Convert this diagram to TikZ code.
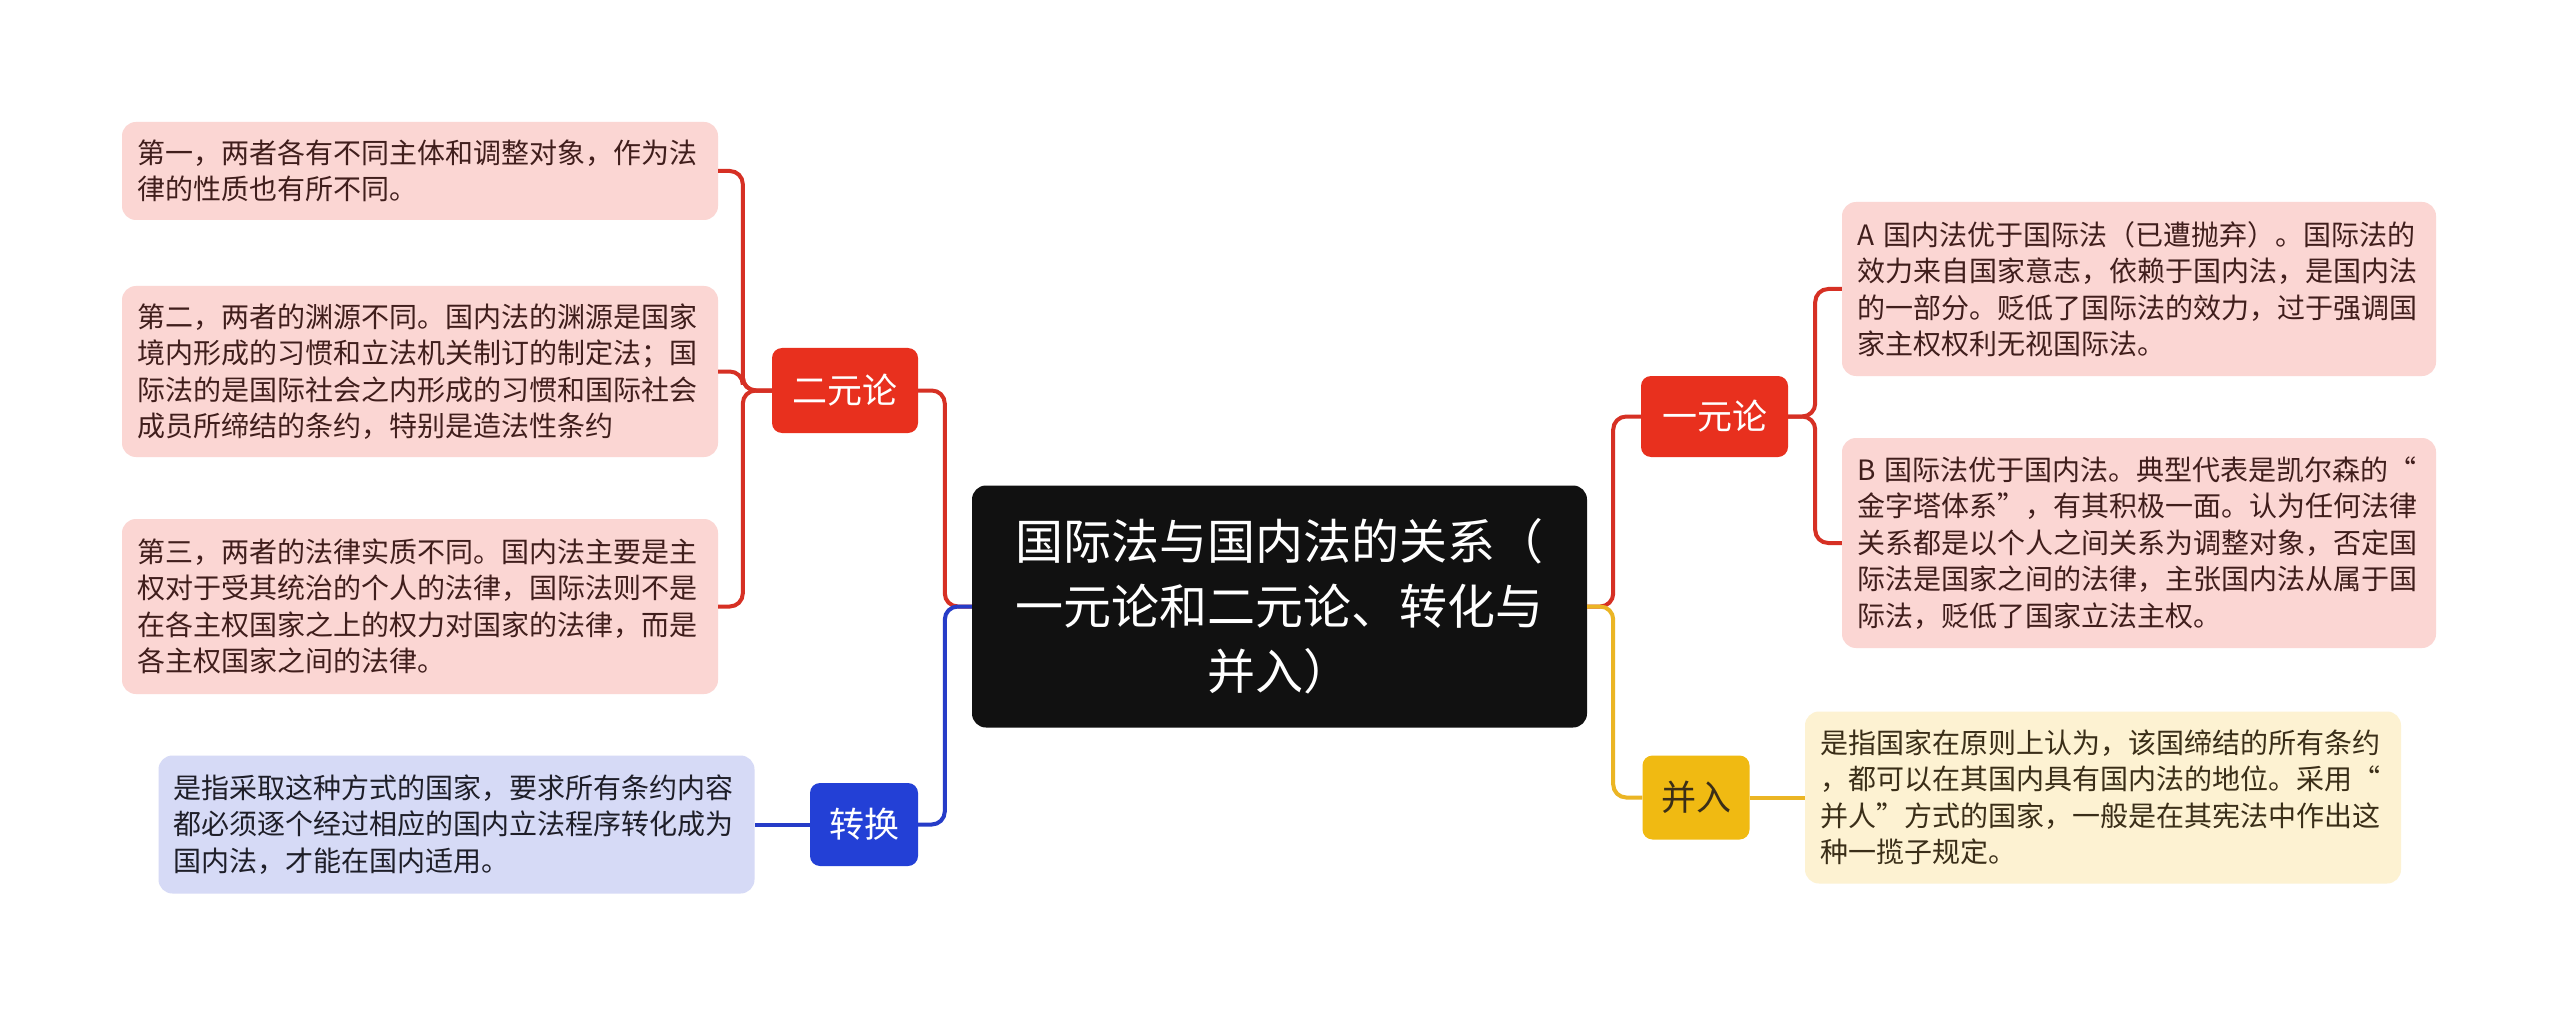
\documentclass[tikz,border=0pt]{standalone}
\usepackage{fontspec}
\setmainfont{Noto Sans CJK SC}
\definecolor{rednode}{RGB}{232,48,30}
\definecolor{redline}{RGB}{214,48,36}
\definecolor{redleaf}{RGB}{251,214,211}
\definecolor{redtext}{RGB}{64,30,28}
\definecolor{bluenode}{RGB}{35,64,214}
\definecolor{blueline}{RGB}{38,60,200}
\definecolor{blueleaf}{RGB}{214,218,246}
\definecolor{bluetext}{RGB}{30,30,40}
\definecolor{yelnode}{RGB}{240,186,18}
\definecolor{yelline}{RGB}{235,181,36}
\definecolor{yelleaf}{RGB}{253,242,210}
\definecolor{yeltext}{RGB}{58,46,24}
\definecolor{centerfill}{RGB}{17,17,17}
\tikzset{
  x=1pt, y=-1pt,
  leafbox/.style={rectangle, rounded corners=14pt, inner sep=0pt, align=left,
    font=\fontsize{28}{36.5}\selectfont},
  branchbox/.style={rectangle, rounded corners=10pt, inner sep=0pt, align=center,
    font=\fontsize{35}{40}\selectfont},
  conn/.style={line width=4pt, rounded corners=13pt},
}
\begin{document}
\begin{tikzpicture}
\fill[white] (0,0) rectangle (2560,1016);
\useasboundingbox (0,0) rectangle (2560,1016);

% center
\node[rectangle, rounded corners=14pt, fill=centerfill, text=white, inner sep=0pt,
  minimum width=615pt, minimum height=242pt, text width=560pt, align=center,
  font=\fontsize{48}{65}\selectfont] (C) at (1279.5,606.5)
  {国际法与国内法的关系（\\一元论和二元论、转化与\\并入）};

% branch nodes
\node[branchbox, fill=rednode, text=white, minimum width=146pt, minimum height=85pt] (E) at (845,390.5) {二元论};
\node[branchbox, fill=bluenode, text=white, minimum width=108pt, minimum height=83pt] (Z) at (864,824.5) {转换};
\node[branchbox, fill=rednode, text=white, minimum width=147pt, minimum height=81pt] (Y) at (1714.5,416.5) {一元论};
\node[branchbox, fill=yelnode, text=yeltext, minimum width=107pt, minimum height=84pt] (P) at (1696,797.5) {并入};

% left leaves
\node[leafbox, fill=redleaf, text=redtext, minimum width=596pt, minimum height=98pt, text width=566pt] (L1) at (420,171)
  {第一，两者各有不同主体和调整对象，作为法\\律的性质也有所不同。};
\node[leafbox, fill=redleaf, text=redtext, minimum width=596pt, minimum height=171pt, text width=566pt] (L2) at (420,371.5)
  {第二，两者的渊源不同。国内法的渊源是国家\\境内形成的习惯和立法机关制订的制定法；国\\际法的是国际社会之内形成的习惯和国际社会\\成员所缔结的条约，特别是造法性条约};
\node[leafbox, fill=redleaf, text=redtext, minimum width=596pt, minimum height=175pt, text width=566pt] (L3) at (420,606.5)
  {第三，两者的法律实质不同。国内法主要是主\\权对于受其统治的个人的法律，国际法则不是\\在各主权国家之上的权力对国家的法律，而是\\各主权国家之间的法律。};
\node[leafbox, fill=blueleaf, text=bluetext, minimum width=596pt, minimum height=138pt, text width=566pt] (LZ) at (456.5,824.5)
  {是指采取这种方式的国家，要求所有条约内容\\都必须逐个经过相应的国内立法程序转化成为\\国内法，才能在国内适用。};

% right leaves
\node[leafbox, fill=redleaf, text=redtext, minimum width=594pt, minimum height=174pt, text width=564pt] (A) at (2139,289)
  {A~国内法优于国际法（已遭抛弃）。国际法的\\效力来自国家意志，依赖于国内法，是国内法\\的一部分。贬低了国际法的效力，过于强调国\\家主权权利无视国际法。};
\node[leafbox, fill=redleaf, text=redtext, minimum width=594pt, minimum height=210pt, text width=564pt] (B) at (2139,543)
  {B~国际法优于国内法。典型代表是凯尔森的“\\金字塔体系”，有其积极一面。认为任何法律\\关系都是以个人之间关系为调整对象，否定国\\际法是国家之间的法律，主张国内法从属于国\\际法，贬低了国家立法主权。};
\node[leafbox, fill=yelleaf, text=yeltext, minimum width=596pt, minimum height=172pt, text width=566pt] (LP) at (2103,797.5)
  {是指国家在原则上认为，该国缔结的所有条约\\，都可以在其国内具有国内法的地位。采用“\\并人”方式的国家，一般是在其宪法中作出这\\种一揽子规定。};

% trunk coordinates
\coordinate (CL) at ([xshift=-27pt]C.west);
\coordinate (CR) at ([xshift=26pt]C.east);
\coordinate (ET) at ([xshift=-29pt]E.west);
\coordinate (YT) at ([xshift=27pt]Y.east);

% connectors
\draw[conn, redline] (C.west) -- (CL) |- (E.east);
\draw[conn, blueline] (C.west) -- (CL) |- (Z.east);
\draw[conn, redline] (C.east) -- (CR) |- (Y.west);
\draw[conn, yelline] (C.east) -- (CR) |- (P.west);

\draw[conn, redline] (E.west) -- (ET) |- (L1.east);
\draw[conn, redline] (E.west) -- (ET) |- (L2.east);
\draw[conn, redline] (E.west) -- (ET) |- (L3.east);

\draw[conn, redline] (Y.east) -- (YT) |- (A.west);
\draw[conn, redline] (Y.east) -- (YT) |- (B.west);

\draw[conn, blueline] (Z.west) -- (LZ.east);
\draw[conn, yelline] (P.east) -- (LP.west);
\end{tikzpicture}
\end{document}
